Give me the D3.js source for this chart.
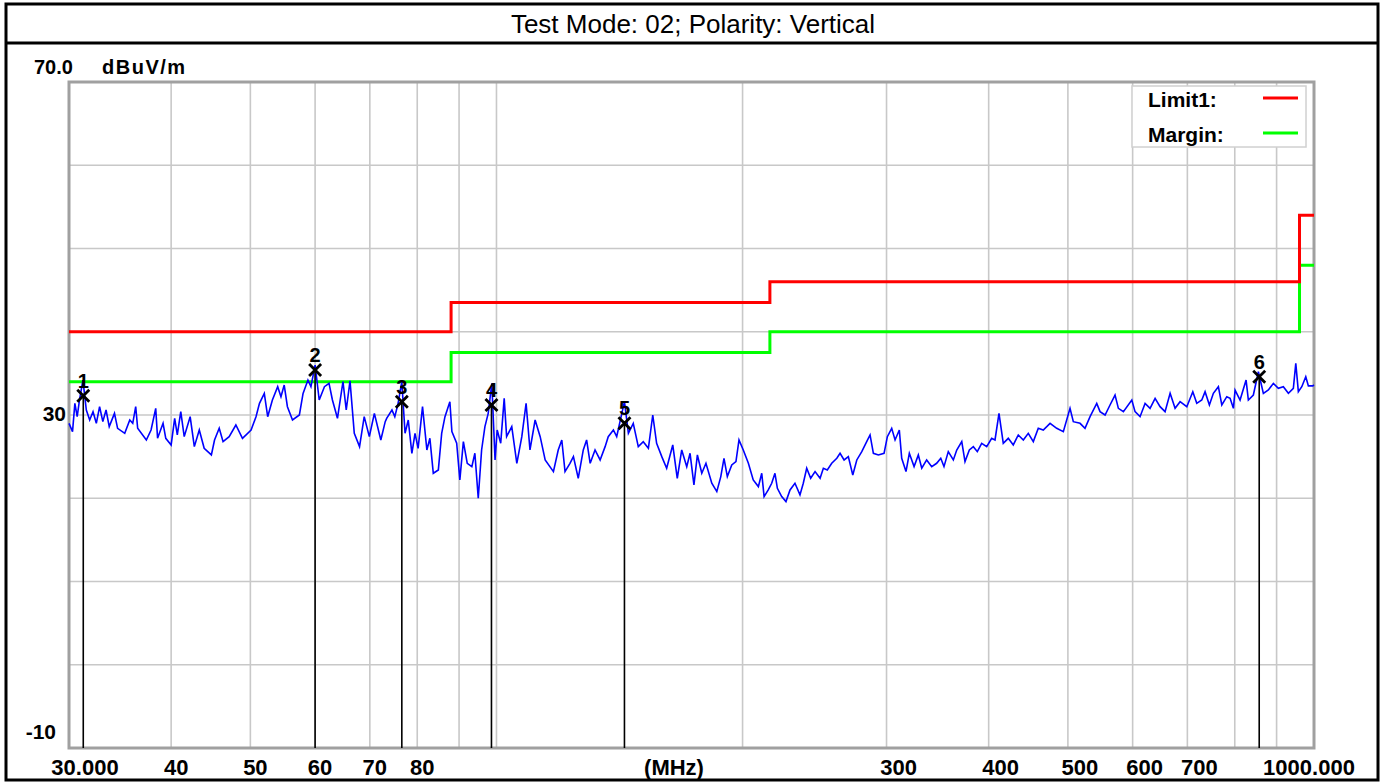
<!DOCTYPE html>
<html>
<head>
<meta charset="utf-8">
<script src="https://cdn.jsdelivr.net/npm/d3@7"></script>
<style>
  body { margin: 0; background: #fff; }
  svg text { font-family: "Liberation Sans", Arial, sans-serif; }
</style>
</head>
<body>
<div id="chart"></div>
<script>
var traceFreq = [30.0, 30.3, 30.5, 30.7, 30.9, 31.2, 31.5, 31.8, 32.1, 32.4, 32.7, 33.0, 33.3, 33.6, 34.1, 34.4, 35.1, 35.6, 35.9, 36.2,
  36.4, 37.3, 37.8, 38.3, 38.5, 39.1, 39.4, 40.0, 40.4, 40.7, 41.1, 41.5, 42.2, 42.7, 43.3, 43.9, 44.8, 45.2, 45.8, 46.3,
  47.1, 48.0, 48.9, 50.1, 50.8, 51.3, 52.0, 52.5, 53.2, 54.0, 54.5, 55.0, 55.5, 56.3, 57.4, 58.0, 58.8, 59.3, 60.0, 60.7,
  61.6, 62.4, 63.0, 63.9, 64.9, 65.5, 66.2, 67.0, 68.0, 68.9, 69.9, 70.9, 72.2, 73.1, 73.4, 74.5, 75.1, 75.8, 76.6, 77.3,
  78.0, 78.8, 79.5, 80.2, 81.2, 82.2, 82.9, 83.7, 84.9, 85.7, 86.5, 87.7, 88.2, 89.4, 90.2, 91.1, 92.1, 93.3, 94.1, 95.0,
  95.9, 96.8, 97.7, 98.7, 99.6, 100.2, 101.2, 102.2, 102.9, 104.4, 105.9, 107.4, 108.7, 109.9, 111.5, 113.1, 114.7, 117.4, 119.0, 120.2,
  121.3, 123.0, 124.2, 125.9, 127.7, 128.9, 130.2, 132.0, 133.9, 135.8, 137.0, 139.0, 140.3, 141.9, 143.4, 145.0, 147.0, 149.1, 151.2, 153.4,
  155.3, 157.0, 159.3, 161.5, 164.3, 166.4, 168.5, 170.9, 172.5, 174.4, 176.1, 178.3, 180.4, 183.4, 186.0, 188.1, 189.8, 191.6, 194.0, 196.3,
  198.0, 200.4, 203.3, 206.1, 209.1, 211.1, 212.5, 215.0, 217.1, 219.1, 220.6, 223.3, 226.0, 228.6, 231.8, 235.1, 237.3, 239.6, 242.3, 245.3,
  248.8, 251.1, 253.9, 257.1, 260.8, 263.2, 266.2, 269.4, 272.8, 275.9, 279.8, 283.7, 286.4, 289.1, 293.2, 297.9, 300.7, 304.4, 307.3, 311.0,
  313.1, 316.9, 319.9, 324.2, 328.1, 331.3, 335.9, 340.7, 345.5, 349.5, 352.7, 357.0, 362.1, 365.6, 370.8, 374.2, 378.8, 383.1, 387.4, 392.2,
  397.8, 403.4, 407.2, 411.8, 416.8, 422.7, 428.7, 434.8, 441.0, 447.2, 453.6, 460.0, 466.5, 475.5, 484.5, 493.6, 503.0, 507.7, 517.4, 524.7,
  532.2, 542.3, 547.4, 555.2, 563.0, 571.0, 576.4, 584.6, 598.6, 604.1, 612.7, 621.4, 630.2, 639.2, 648.2, 657.4, 666.8, 676.2, 685.8, 698.9,
  710.8, 718.8, 729.0, 735.8, 744.8, 753.2, 763.9, 771.3, 782.2, 789.5, 796.9, 800.7, 812.0, 825.9, 831.2, 843.0, 855.0, 867.1, 879.4, 891.9,
  904.5, 917.3, 930.4, 943.5, 950.0, 956.9, 966.2, 977.1, 984.3, 996.5, 1000.0];
var traceLevel = [29.0, 28.0, 31.4, 29.8, 31.8, 34.2, 30.6, 29.4, 30.4, 29.0, 31.0, 29.2, 30.6, 28.6, 30.2, 28.4, 27.8, 29.4, 29.0, 31.0,
  28.4, 27.0, 28.2, 30.8, 27.2, 29.0, 27.2, 26.4, 29.6, 27.6, 30.4, 27.4, 29.8, 26.2, 28.2, 26.0, 25.2, 27.0, 28.4, 26.8,
  27.4, 28.8, 27.2, 28.2, 29.8, 31.4, 32.6, 29.8, 31.8, 33.4, 32.2, 33.6, 31.0, 29.4, 30.0, 32.6, 34.2, 33.4, 36.0, 31.8,
  33.4, 33.8, 31.8, 29.6, 34.0, 30.6, 34.1, 27.8, 26.2, 29.8, 27.4, 30.2, 27.0, 29.2, 29.6, 30.6, 29.8, 31.4, 34.0, 27.8,
  29.4, 25.4, 27.8, 26.0, 31.0, 25.8, 27.2, 23.0, 23.4, 27.8, 29.8, 31.6, 28.0, 26.6, 22.2, 26.8, 24.2, 23.8, 25.4, 20.0,
  25.8, 28.6, 30.2, 33.8, 24.6, 28.2, 26.6, 32.0, 27.4, 28.6, 24.2, 27.4, 31.4, 25.8, 29.4, 27.4, 24.6, 23.2, 25.8, 27.0,
  23.2, 24.2, 25.0, 22.4, 25.8, 27.0, 24.2, 25.8, 24.6, 26.2, 27.4, 28.2, 27.4, 29.6, 31.6, 27.8, 29.0, 26.2, 26.8, 26.0,
  30.0, 26.6, 25.0, 23.6, 26.4, 22.4, 25.8, 23.8, 25.4, 21.6, 25.2, 23.0, 24.2, 21.8, 20.8, 22.6, 24.8, 22.6, 24.0, 24.4,
  27.0, 25.8, 24.2, 22.2, 21.4, 23.0, 20.2, 21.0, 21.8, 23.0, 21.2, 20.2, 19.6, 21.0, 21.8, 20.4, 21.8, 23.6, 22.4, 23.2,
  22.4, 23.6, 23.4, 24.2, 24.8, 25.4, 24.6, 25.0, 22.8, 24.6, 25.6, 26.8, 27.6, 25.4, 25.2, 25.4, 27.4, 28.4, 27.0, 28.2,
  24.8, 23.2, 25.4, 23.8, 25.2, 23.6, 24.6, 23.8, 24.2, 24.8, 23.8, 25.6, 24.6, 25.8, 26.8, 24.4, 25.8, 26.2, 25.6, 26.6,
  26.2, 27.2, 27.0, 30.2, 26.6, 27.2, 26.4, 27.6, 27.0, 27.8, 26.8, 28.4, 28.2, 29.0, 28.4, 28.0, 30.8, 29.2, 29.0, 28.4,
  29.8, 31.4, 30.4, 30.0, 31.2, 32.4, 30.8, 30.4, 31.8, 30.4, 29.8, 31.4, 30.8, 32.0, 31.0, 30.4, 32.6, 30.8, 31.6, 31.0,
  32.8, 31.4, 31.8, 32.8, 31.2, 32.6, 33.4, 31.2, 32.2, 32.0, 30.8, 33.0, 31.8, 34.2, 31.8, 32.4, 35.2, 32.6, 33.0, 33.8,
  33.2, 33.4, 32.6, 33.2, 36.2, 32.8, 33.4, 34.6, 33.5, 33.5, 33.6];

// FCC class B limit and 6 dB margin, as steps
var limitFreq = [30, 88, 88, 216, 216, 960, 960, 1000];
var limitLevel = [40, 40, 43.5, 43.5, 46, 46, 54, 54];
var marginLevel = [34, 34, 37.5, 37.5, 40, 40, 48, 48];

// Peak markers
var markerNum = ["1", "2", "3", "4", "5", "6"];
var markerFreq = [31.23, 60.0, 76.6, 98.6, 143.4, 857];
var markerLevel = [32.3, 35.4, 31.6, 31.2, 29.0, 34.6];

// Axis ticks
var gridFreq = [40, 50, 60, 70, 80, 90, 100, 200, 300, 400, 500, 600, 700, 800, 900];
var gridLevel = [0, 10, 20, 30, 40, 50, 60];
var xTickValues = [30, 40, 50, 60, 70, 80, 300, 400, 500, 600, 700, 1000];
var xTickLabels = ["30.000", "40", "50", "60", "70", "80", "300", "400", "500", "600", "700", "1000.000"];

var title = "Test Mode: 02; Polarity: Vertical";

var W = 1384, H = 783;
var plot = { left: 69, right: 1314, top: 82, bottom: 748 };

var svg = d3.select("#chart").append("svg")
  .attr("width", W)
  .attr("height", H);

var x = d3.scaleLog().domain([30, 1000]).range([plot.left, plot.right]);
var y = d3.scaleLinear().domain([-10, 70]).range([plot.bottom, plot.top]);

// outer frame + title bar
svg.append("rect")
  .attr("x", 6).attr("y", 4).attr("width", 1372).attr("height", 776)
  .attr("fill", "#fff").attr("stroke", "#000").attr("stroke-width", 3);
svg.append("line")
  .attr("x1", 6).attr("x2", 1378).attr("y1", 43).attr("y2", 43)
  .attr("stroke", "#000").attr("stroke-width", 3);
svg.append("text")
  .attr("x", 693).attr("y", 33)
  .attr("text-anchor", "middle")
  .style("font-size", "26px")
  .text(title);

// grid
svg.selectAll(".vgrid")
  .data(gridFreq)
  .enter().append("line")
  .attr("x1", function(d) { return x(d); })
  .attr("x2", function(d) { return x(d); })
  .attr("y1", plot.top).attr("y2", plot.bottom)
  .attr("stroke", "#c8c8c8").attr("stroke-width", 1.6);

svg.selectAll(".hgrid")
  .data(gridLevel)
  .enter().append("line")
  .attr("x1", plot.left).attr("x2", plot.right)
  .attr("y1", function(d) { return y(d); })
  .attr("y2", function(d) { return y(d); })
  .attr("stroke", "#c8c8c8").attr("stroke-width", 1.6);

// plot frame
svg.append("rect")
  .attr("x", plot.left).attr("y", plot.top)
  .attr("width", plot.right - plot.left).attr("height", plot.bottom - plot.top)
  .attr("fill", "none").attr("stroke", "#a0a0a0").attr("stroke-width", 3);

// limit lines
var line = d3.line()
  .x(function(d) { return x(d[0]); })
  .y(function(d) { return y(d[1]); });

svg.append("path")
  .datum(d3.zip(limitFreq, marginLevel))
  .attr("d", line)
  .attr("fill", "none").attr("stroke", "#00ff00").attr("stroke-width", 3);

svg.append("path")
  .datum(d3.zip(limitFreq, limitLevel))
  .attr("d", line)
  .attr("fill", "none").attr("stroke", "#ff0000").attr("stroke-width", 3);

// trace
svg.append("path")
  .datum(d3.zip(traceFreq, traceLevel))
  .attr("d", line)
  .attr("fill", "none").attr("stroke", "#0000ff").attr("stroke-width", 1.6);

// markers
var markers = d3.zip(markerNum, markerFreq, markerLevel);

svg.selectAll(".mline")
  .data(markers)
  .enter().append("line")
  .attr("x1", function(d) { return x(d[1]); })
  .attr("x2", function(d) { return x(d[1]); })
  .attr("y1", function(d) { return y(d[2]); })
  .attr("y2", plot.bottom)
  .attr("stroke", "#000").attr("stroke-width", 1.6);

var mk = svg.selectAll(".mk")
  .data(markers)
  .enter().append("g")
  .attr("transform", function(d) { return "translate(" + x(d[1]) + "," + y(d[2]) + ")"; });

mk.append("path")
  .attr("d", "M-6,-6L6,6M-6,6L6,-6")
  .attr("stroke", "#000").attr("stroke-width", 2.8);

mk.append("text")
  .attr("y", -8)
  .attr("text-anchor", "middle")
  .style("font-size", "20px")
  .style("font-weight", "bold")
  .text(function(d) { return d[0]; });

// y labels
svg.append("text")
  .attr("x", 34).attr("y", 74)
  .style("font-size", "20px").style("font-weight", "bold")
  .text("70.0");
svg.append("text")
  .attr("x", 102).attr("y", 74)
  .style("font-size", "20px").style("font-weight", "bold")
  .style("letter-spacing", "1.5px")
  .text("dBuV/m");
svg.append("text")
  .attr("x", 66).attr("y", y(30) + 6)
  .attr("text-anchor", "end")
  .style("font-size", "21px").style("font-weight", "bold")
  .text("30");
svg.append("text")
  .attr("x", 56).attr("y", y(-10) - 9)
  .attr("text-anchor", "end")
  .style("font-size", "21px").style("font-weight", "bold")
  .text("-10");

// x labels
svg.selectAll(".xlab")
  .data(d3.zip(xTickValues, xTickLabels))
  .enter().append("text")
  .attr("x", function(d, i) {
    if (i === 0) return x(d[0]) + 16;
    if (i === xTickValues.length - 1) return x(d[0]) - 5;
    return x(d[0]) + (d[0] < 100 ? 5 : 12);
  })
  .attr("y", 775)
  .attr("text-anchor", "middle")
  .style("font-size", "22px").style("font-weight", "bold")
  .text(function(d) { return d[1]; });

svg.append("text")
  .attr("x", 674).attr("y", 775)
  .attr("text-anchor", "middle")
  .style("font-size", "22px").style("font-weight", "bold")
  .text("(MHz)");

// legend
var legend = svg.append("g");
legend.append("rect")
  .attr("x", 1132).attr("y", 86).attr("width", 174).attr("height", 61)
  .attr("fill", "#fff").attr("stroke", "#d0d0d0").attr("stroke-width", 1.5);
legend.append("text")
  .attr("x", 1148).attr("y", 107)
  .style("font-size", "21px").style("font-weight", "bold")
  .text("Limit1:");
legend.append("text")
  .attr("x", 1148).attr("y", 142)
  .style("font-size", "21px").style("font-weight", "bold")
  .text("Margin:");
legend.append("line")
  .attr("x1", 1263).attr("x2", 1298).attr("y1", 98).attr("y2", 98)
  .attr("stroke", "#ff0000").attr("stroke-width", 3);
legend.append("line")
  .attr("x1", 1263).attr("x2", 1298).attr("y1", 133).attr("y2", 133)
  .attr("stroke", "#00ff00").attr("stroke-width", 3);
</script>
</body>
</html>
